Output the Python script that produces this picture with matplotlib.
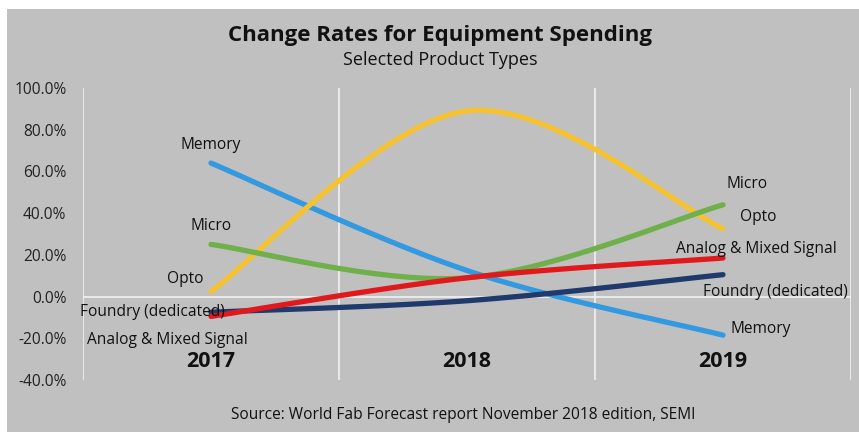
import numpy as np
import matplotlib.pyplot as plt
from matplotlib.patches import Rectangle
import matplotlib.transforms as mtransforms

plt.rcParams['font.family'] = ['Open Sans', 'DejaVu Sans']

years = ['2017', '2018', '2019']
memory = [64.0, 12.5, -18.5]
opto = [2.5, 89.0, 32.5]
micro = [25.0, 9.0, 44.0]
analog = [-9.5, 9.0, 18.5]
foundry = [-7.5, -2.0, 10.5]

series = [
    ('Memory', memory, '#3399e0'),
    ('Opto', opto, '#f5c232'),
    ('Micro', micro, '#6fb04a'),
    ('Foundry (dedicated)', foundry, '#203a6c'),
    ('Analog & Mixed Signal', analog, '#e0191c'),
]

# label offsets in pixels (left side at first point, right side at last point)
left_labels = {
    'Memory': (0, 18, 'center'),
    'Micro': (0, 18, 'center'),
    'Opto': (-26, 12, 'center'),
    'Foundry (dedicated)': (14, 0, 'right'),
    'Analog & Mixed Signal': (-44, -24, 'center'),
}
right_labels = {
    'Memory': (8, 6, 'left'),
    'Micro': (3, 21, 'left'),
    'Opto': (17, 12, 'left'),
    'Foundry (dedicated)': (-20, -17, 'left'),
    'Analog & Mixed Signal': (-47, 9, 'left'),
}


def smooth(y, n=60):
    # excel-like smoothed line: bezier segments with catmull-rom tangents
    x = np.arange(len(y), dtype=float)
    y = np.asarray(y, dtype=float)
    pts = np.column_stack([x, y])
    out = []
    for i in range(len(pts) - 1):
        p0 = pts[i - 1] if i > 0 else pts[i]
        p1, p2 = pts[i], pts[i + 1]
        p3 = pts[i + 2] if i + 2 < len(pts) else pts[i + 1]
        c1 = p1 + (p2 - p0) / 6
        c2 = p2 - (p3 - p1) / 6
        t = np.linspace(0, 1, n)[:, None]
        seg = ((1 - t) ** 3) * p1 + 3 * ((1 - t) ** 2) * t * c1 + 3 * (1 - t) * t ** 2 * c2 + t ** 3 * p2
        out.append(seg)
    seg = np.vstack(out)
    return seg[:, 0], seg[:, 1]


fig = plt.figure(figsize=(8.59, 4.32), dpi=100)
fig.patch.set_facecolor('white')
fig.patches.append(Rectangle((7 / 859, 0), 1, 1 - 9 / 432, transform=fig.transFigure,
                             facecolor='#c0c0c0', edgecolor='none', zorder=-10))

ax = fig.add_axes([83 / 859, 52 / 432, 768 / 859, 292 / 432])
ax.set_facecolor('none')
ax.set_xlim(-0.5, 2.5)
ax.set_ylim(-40, 100)
for s in ax.spines.values():
    s.set_visible(False)

for xb in [-0.5, 0.5, 1.5, 2.5]:
    ax.axvline(xb, color='#f2f2f2', lw=1.2, zorder=1)
ax.axhline(0, color='#f2f2f2', lw=1.2, zorder=1)

ax.set_yticks(np.arange(-40, 101, 20))
ax.set_yticklabels([f'{v:.1f}%' for v in np.arange(-40, 101, 20)], fontsize=11.2, color='#222222')
ax.tick_params(axis='y', length=0, pad=12)
ax.set_xticks([])

for name, vals, col in series:
    xs, ys = smooth(vals)
    ax.plot(xs, ys, color=col, lw=3.8, solid_capstyle='round', zorder=3)
    dx, dy, ha = left_labels[name]
    ax.annotate(name, (0, vals[0]), xytext=(dx * 0.72, dy * 0.72), textcoords='offset points',
                ha=ha, va='center', fontsize=11.2, color='#111111', zorder=5)
    dx, dy, ha = right_labels[name]
    ax.annotate(name, (len(vals) - 1, vals[-1]), xytext=(dx * 0.72, dy * 0.72), textcoords='offset points',
                ha=ha, va='center', fontsize=11.2, color='#111111', zorder=5)

trans = mtransforms.blended_transform_factory(ax.transData, ax.transAxes)
for i, yr in enumerate(years):
    ax.text(i, 0.062, yr, transform=trans, ha='center', va='center',
            fontsize=15.5, fontweight='bold', color='#111111')

fig.text(440 / 859, 1 - 35 / 432, 'Change Rates for Equipment Spending', ha='center', va='center',
         fontsize=16, fontweight='bold', color='#111111')
fig.text(440 / 859, 1 - 60 / 432, 'Selected Product Types', ha='center', va='center',
         fontsize=13, color='#111111')
fig.text(463 / 859, 1 - 415 / 432, 'Source: World Fab Forecast report November 2018 edition, SEMI',
         ha='center', va='center', fontsize=11.2, color='#111111')

fig.savefig('out.png', dpi=100)
